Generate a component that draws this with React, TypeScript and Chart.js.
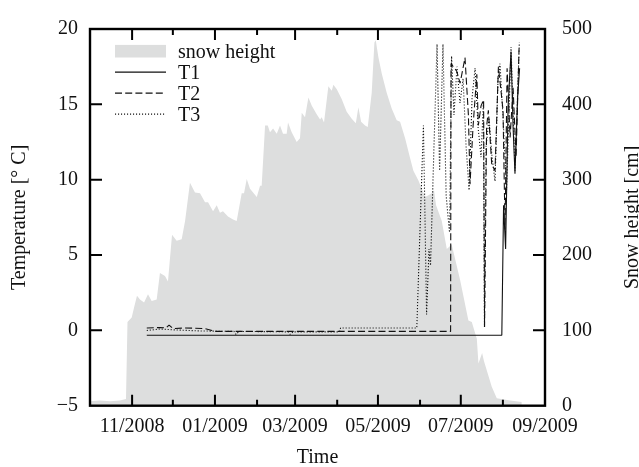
import React, { useEffect, useRef } from 'react';
import { Chart, registerables } from 'chart.js';

Chart.register(...registerables);

// x values are days since 1 Oct 2008
const snowDays = [0, 7, 15, 22, 26.5, 27.6, 30.7, 32.4, 34.6, 36.8, 39.8, 42.7, 45.4, 49.1, 51.5, 55.2, 57.4, 60.4, 63.8, 67.5, 70, 73.6, 77.3, 81, 84.7, 86.9, 90.6, 93.3, 95.7, 97.9, 101.6, 105.3, 108, 111.7, 113.4, 115.4, 117.8, 122.8, 125.2, 126.4, 128.9, 130.9, 132.5, 134.8, 137.5, 139.9, 142.1, 144.8, 145.8, 148.5, 152.2, 154.6, 155.9, 158.3, 160.8, 163.3, 166.9, 169.4, 170.6, 172.3, 175.5, 178, 179.2, 181.7, 185.3, 189, 192.7, 195.7, 197.6, 199.6, 202.5, 204.5, 207.4, 209.4, 210.4, 212.3, 214.8, 218.5, 222.2, 225.8, 228.3, 232, 235.6, 238.1, 241.8, 246.7, 248.9, 251.6, 253.3, 254.8, 259, 262.7, 266.3, 272.5, 278.6, 281.1, 284.8, 286, 288.7, 290.1, 295.8, 299.5, 309.3, 317.9];
const snowCm = [6, 7, 6, 7, 9, 111, 117, 130, 146, 141, 137, 148, 139, 141, 176, 172, 165, 227, 219, 221, 245, 296, 283, 282, 270, 270, 258, 266, 256, 258, 251, 247, 245, 282, 282, 301, 288, 277, 292, 292, 372, 372, 363, 368, 361, 372, 361, 361, 376, 363, 350, 355, 389, 383, 409, 398, 387, 380, 383, 376, 424, 418, 426, 420, 407, 390, 381, 375, 396, 377, 372, 370, 415, 482, 485, 463, 441, 415, 394, 379, 377, 355, 329, 312, 299, 277, 279, 282, 286, 266, 245, 208, 214, 167, 113, 111, 89, 56, 70, 59, 25, 10, 7, 5];

const t1Days = [41.8, 303.2, 304.5, 306.0, 307.8, 310.0, 311.5, 312.9, 314.8, 316.3];
const t1Temp = [-0.32, -0.32, 8.3, 5.4, 14.8, 18.5, 13.5, 10.4, 15.4, 17.4];

const t2Days = [41.8, 51.5, 56.0, 58.2, 61.1, 70.0, 84.7, 89.8, 92.0, 265.5, 265.8, 270.0, 272.5, 276.1, 278.6, 279.8, 282.0, 284.8, 285.9, 287.9, 289.8, 290.5, 292.0, 293.3, 295.8, 298.2, 300.7, 302.7, 304.1, 305.6, 307.1, 309.3, 311.5, 313.7, 315.9];
const t2Temp = [0.16, 0.19, 0.16, 0.35, 0.12, 0.16, 0.12, -0.01, -0.07, -0.07, 17.7, 17.2, 16.4, 18.1, 14.3, 9.7, 13.5, 17.0, 13.6, 14.9, 15.3, 0.22, 13.5, 14.6, 11.0, 10.6, 17.5, 15.8, 14.6, 6.7, 17.4, 12.8, 16.1, 11.5, 18.7];

const t3Days = [41.8, 51.5, 62.6, 81.0, 106.0, 107.5, 109.7, 145.8, 147.3, 149.5, 183.7, 184.5, 240.6, 245.5, 247.8, 249.6, 250.7, 255.5, 257.4, 259.9, 262.2, 264.7, 266.2, 268.0, 270.2, 272.4, 274.7, 276.9, 279.1, 281.3, 283.5, 285.7, 287.9, 289.6, 290.4, 291.6, 293.8, 296.0, 298.2, 300.4, 301.9, 304.1, 306.7, 310.0, 312.9, 316.1];
const t3Temp = [-0.01, 0.09, 0.03, -0.04, -0.07, -0.27, -0.07, -0.1, -0.27, -0.1, -0.1, 0.16, 0.16, 13.6, 1.06, 5.4, 4.3, 19.0, 10.6, 19.0, 8.95, 6.5, 18.2, 14.3, 17.5, 15.1, 16.7, 12.2, 9.3, 15.4, 17.4, 13.5, 11.5, 15.1, 0.22, 12.2, 14.1, 11.5, 9.9, 16.7, 17.7, 14.1, 9.3, 18.8, 10.6, 19.1];

const monthTickDays = [31, 61, 92, 123, 151, 182, 212, 243, 273, 304, 335];
const monthTickLabels = ['11/2008', '', '01/2009', '', '03/2009', '', '05/2009', '', '07/2009', '', '09/2009'];
const tempTicks = [-5, 0, 5, 10, 15, 20];
const snowTicks = [0, 100, 200, 300, 400, 500];

const legendLabels = ['snow height', 'T1', 'T2', 'T3'];

const FONT = '"Liberation Serif", "Times New Roman", Times, serif';
const FS = 20;
const SNOW_FILL = '#dddede';
const INK = '#111';

export default function App() {
  const ref = useRef<HTMLCanvasElement>(null);

  useEffect(() => {
    const canvas = ref.current;
    if (!canvas) return;
    const pts = (xs: number[], ys: number[]) => xs.map((x, i) => ({ x, y: ys[i] }));

    const decorations = {
      id: 'decorations',
      afterDraw(chart: any) {
        const { ctx, chartArea: a, scales } = chart;
        ctx.save();
        ctx.strokeStyle = '#000';
        ctx.lineWidth = 2;
        ctx.beginPath();
        monthTickDays.forEach((d, i) => {
          const px = scales.x.getPixelForValue(d);
          if (px >= a.right - 1) return;
          const len = monthTickLabels[i] ? 11 : 6;
          ctx.moveTo(px, a.bottom);
          ctx.lineTo(px, a.bottom - len);
          ctx.moveTo(px, a.top);
          ctx.lineTo(px, a.top + len);
        });
        tempTicks.forEach((v) => {
          if (v <= -5 || v >= 20) return;
          const py = scales.y.getPixelForValue(v);
          ctx.moveTo(a.left, py);
          ctx.lineTo(a.left + 12, py);
        });
        snowTicks.forEach((v) => {
          if (v <= 0 || v >= 500) return;
          const py = scales.y2.getPixelForValue(v);
          ctx.moveTo(a.right, py);
          ctx.lineTo(a.right - 12, py);
        });
        ctx.stroke();
        ctx.lineWidth = 2.4;
        ctx.strokeRect(a.left, a.top, a.right - a.left, a.bottom - a.top);

        // legend
        const lx0 = a.left + 25;
        const lx1 = a.left + 76;
        const tx = a.left + 88;
        ctx.font = `${FS}px ${FONT}`;
        ctx.textAlign = 'left';
        ctx.textBaseline = 'alphabetic';
        legendLabels.forEach((lab, i) => {
          const base = a.top + 28.6 + i * 21;
          const cy = base - 6.4;
          if (i === 0) {
            ctx.fillStyle = SNOW_FILL;
            ctx.fillRect(lx0, cy - 6.3, lx1 - lx0, 12.6);
          } else {
            ctx.strokeStyle = INK;
            ctx.lineWidth = 1.2;
            ctx.setLineDash(i === 1 ? [] : i === 2 ? [7, 3.2] : [1.1, 1.9]);
            ctx.beginPath();
            ctx.moveTo(lx0, cy);
            ctx.lineTo(lx1, cy);
            ctx.stroke();
            ctx.setLineDash([]);
          }
          ctx.fillStyle = INK;
          ctx.fillText(lab, tx, base);
        });

        // axis titles
        const midY = (a.top + a.bottom) / 2;
        ctx.fillStyle = INK;
        ctx.textAlign = 'center';
        ctx.textBaseline = 'alphabetic';
        ctx.save();
        ctx.translate(25, midY);
        ctx.rotate(-Math.PI / 2);
        ctx.fillText('Temperature [\u00B0 C]', 0, 0);
        ctx.restore();
        ctx.save();
        ctx.translate(637.5, midY);
        ctx.rotate(-Math.PI / 2);
        ctx.fillText('Snow height [cm]', 0, 0);
        ctx.restore();
        ctx.fillText('Time', (a.left + a.right) / 2, 463.3);
        ctx.restore();
      },
    };

    const lineBase = {
      type: 'line' as const,
      borderColor: INK,
      borderWidth: 1.1,
      pointRadius: 0,
      fill: false,
      tension: 0,
      borderJoinStyle: 'bevel' as const,
      yAxisID: 'y',
    };

    const chart = new Chart(canvas, {
      type: 'line',
      data: {
        datasets: [
          { ...lineBase, label: 'T1', data: pts(t1Days, t1Temp), order: 1 },
          { ...lineBase, label: 'T2', data: pts(t2Days, t2Temp), borderDash: [7, 3.2], order: 2 },
          { ...lineBase, label: 'T3', data: pts(t3Days, t3Temp), borderDash: [1.1, 1.9], order: 3 },
          {
            type: 'line',
            label: 'snow height',
            data: pts(snowDays, snowCm),
            yAxisID: 'y2',
            borderColor: 'rgba(0,0,0,0)',
            borderWidth: 0,
            backgroundColor: SNOW_FILL,
            fill: 'origin',
            pointRadius: 0,
            tension: 0,
            order: 4,
          },
        ],
      },
      options: {
        responsive: false,
        animation: false,
        devicePixelRatio: 1,
        layout: { padding: { top: 19.3, left: 0, right: 0, bottom: 0 } },
        plugins: { legend: { display: false }, tooltip: { enabled: false } },
        scales: {
          x: {
            type: 'linear',
            min: 0,
            max: 335,
            afterBuildTicks: (s: any) => {
              s.ticks = monthTickDays.map((v) => ({ value: v }));
            },
            afterFit: (s: any) => {
              s.height = 61.3;
            },
            grid: { display: false, drawTicks: false },
            border: { display: false },
            ticks: {
              autoSkip: false,
              maxRotation: 0,
              padding: 9,
              color: INK,
              font: { family: FONT, size: FS },
              callback: (v: any) => {
                const i = monthTickDays.indexOf(Number(v));
                return i >= 0 ? monthTickLabels[i] : '';
              },
            },
          },
          y: {
            type: 'linear',
            position: 'left',
            min: -5,
            max: 20,
            afterBuildTicks: (s: any) => {
              s.ticks = tempTicks.map((v) => ({ value: v }));
            },
            afterFit: (s: any) => {
              s.width = 90;
            },
            grid: { display: false, drawTicks: false },
            border: { display: false },
            ticks: {
              padding: 12,
              color: INK,
              font: { family: FONT, size: FS },
              callback: (v: any) => String(v).replace('-', '\u2212'),
            },
          },
          y2: {
            type: 'linear',
            position: 'right',
            min: 0,
            max: 500,
            afterBuildTicks: (s: any) => {
              s.ticks = snowTicks.map((v) => ({ value: v }));
            },
            afterFit: (s: any) => {
              s.width = 94;
            },
            grid: { display: false, drawTicks: false },
            border: { display: false },
            ticks: {
              padding: 17,
              color: INK,
              font: { family: FONT, size: FS },
            },
          },
        },
      },
      plugins: [decorations],
    } as any);

    return () => chart.destroy();
  }, []);

  return (
    <div style={{ position: 'fixed', left: 0, top: 0, width: 639, height: 467, background: '#fff' }}>
      <canvas ref={ref} width={639} height={467} style={{ display: 'block' }} />
    </div>
  );
}
